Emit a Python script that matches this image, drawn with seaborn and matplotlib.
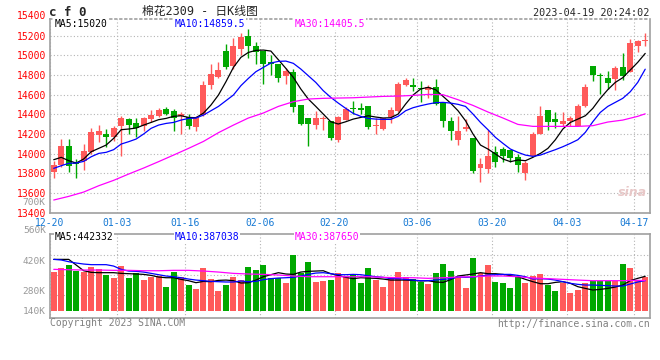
import matplotlib
matplotlib.use("Agg")
import matplotlib.pyplot as plt
import matplotlib.transforms as mtransforms
import seaborn as sns
import pandas as pd
import numpy as np

# daily candles, 80 trading days (12-20 .. 04-18)
opens = [13817, 13888, 14078, 13919, 13929, 14014, 14193, 14197, 14166, 14285,
         14352, 14312, 14285, 14352, 14386, 14454, 14434, 14386, 14369, 14275,
         14393, 14702, 14776, 15041, 14895, 15064, 15193, 15092, 15041, 14936,
         14912, 14793, 14834, 14495, 14363, 14295, 14352, 14329, 14142, 14346,
         14461, 14461, 14481, 14278, 14251, 14369, 14437, 14702, 14702, 14668,
         14651, 14675, 14522, 14329, 14142, 14251, 14159, 13858, 13844, 14014,
         14047, 14041, 13969, 13803, 13973, 14200, 14447, 14352, 14302, 14335,
         14278, 14481, 14888, 14790, 14766, 14759, 14878, 14834, 15098, 15149]
highs = [13929, 14149, 14149, 13946, 14095, 14261, 14291, 14251, 14278, 14386,
         14359, 14359, 14369, 14444, 14461, 14471, 14454, 14420, 14403, 14386,
         14742, 14912, 14929, 15115, 15176, 15224, 15268, 15132, 15041, 15003,
         14912, 14868, 14861, 14495, 14363, 14437, 14386, 14329, 14386, 14471,
         14532, 14512, 14481, 14366, 14363, 14471, 14732, 14766, 14766, 14742,
         14698, 14759, 14522, 14376, 14386, 14352, 14159, 13953, 14241, 14081,
         14071, 14041, 13997, 13929, 14217, 14481, 14447, 14420, 14420, 14386,
         14505, 14708, 14888, 14820, 14844, 14888, 15024, 15166, 15159, 15227]
lows = [13752, 13861, 13817, 13752, 13837, 13997, 14115, 14064, 14132, 13980,
        14200, 14166, 14234, 14318, 14369, 14393, 14234, 14200, 14251, 14234,
        14386, 14658, 14766, 14861, 14861, 15003, 14969, 14912, 14708, 14800,
        14725, 14708, 14420, 14291, 14081, 14251, 14244, 14142, 14122, 14346,
        14403, 14403, 14251, 14200, 14241, 14312, 14427, 14692, 14641, 14522,
        14566, 14495, 14268, 14142, 14091, 14234, 13803, 13708, 13803, 13861,
        13912, 13912, 13817, 13735, 13973, 14200, 14244, 14258, 14285, 14278,
        14278, 14471, 14742, 14607, 14658, 14651, 14752, 14827, 15037, 15092]
closes = [13885, 14078, 13878, 13898, 14024, 14217, 14227, 14173, 14261, 14363,
          14295, 14261, 14363, 14393, 14444, 14403, 14363, 14403, 14285, 14369,
          14698, 14810, 14851, 14878, 15092, 15183, 15098, 15030, 14912, 14912,
          14769, 14837, 14471, 14302, 14302, 14359, 14363, 14159, 14376, 14454,
          14454, 14447, 14268, 14291, 14363, 14447, 14708, 14749, 14681, 14658,
          14675, 14505, 14335, 14227, 14227, 14275, 13820, 13895, 13980, 13919,
          13980, 13959, 13888, 13905, 14200, 14386, 14318, 14318, 14335, 14363,
          14481, 14675, 14803, 14786, 14719, 14871, 14786, 15125, 15146, 15156]

ma5 = [13939, 13963, 13929, 13905, 13946, 14020, 14054, 14088, 14156, 14244,
       14251, 14261, 14291, 14318, 14346, 14359, 14380, 14386, 14369, 14366,
       14413, 14495, 14597, 14732, 14878, 14980, 15030, 15051, 15054, 15044,
       14956, 14868, 14776, 14658, 14556, 14481, 14403, 14325, 14302, 14325,
       14352, 14369, 14386, 14373, 14363, 14366, 14403, 14505, 14597, 14658,
       14675, 14651, 14583, 14515, 14437, 14335, 14200, 14088, 14047, 13997,
       13946, 13919, 13936, 13929, 13963, 14003, 14054, 14142, 14251, 14318,
       14352, 14386, 14461, 14563, 14651, 14725, 14773, 14851, 14929, 15020]
ma10 = [13851, 13878, 13902, 13905, 13922, 13969, 14003, 14014, 14041, 14098,
        14122, 14149, 14200, 14258, 14291, 14308, 14318, 14342, 14359, 14363,
        14393, 14437, 14481, 14539, 14597, 14692, 14766, 14834, 14878, 14922,
        14939, 14942, 14919, 14861, 14793, 14725, 14641, 14573, 14515, 14461,
        14410, 14380, 14359, 14352, 14349, 14349, 14380, 14437, 14468, 14488,
        14505, 14519, 14522, 14515, 14502, 14481, 14403, 14318, 14244, 14166,
        14105, 14047, 14014, 13986, 13973, 13986, 14014, 14041, 14071, 14105,
        14142, 14217, 14325, 14420, 14481, 14522, 14563, 14630, 14725, 14859.5]
ma30_idx = list(range(0, 80, 2)) + [79]
ma30 = [13529, 13566, 13610, 13674, 13729, 13793, 13854, 13919, 13986, 14054,
        14125, 14214, 14291, 14363, 14414, 14481, 14529, 14556, 14563, 14566,
        14569, 14576, 14583, 14586, 14593, 14603, 14600, 14549, 14491, 14424,
        14363, 14298, 14278, 14278, 14278, 14278, 14285, 14322, 14342, 14380,
        14405.5]

# volume in thousands of lots
volumes = [497, 544, 587, 510, 502, 557, 532, 459, 416, 574,
           416, 480, 394, 437, 446, 304, 493, 429, 330, 279,
           549, 403, 253, 330, 429, 394, 562, 523, 587, 424,
           424, 360, 716, 480, 626, 370, 385, 394, 480, 429,
           467, 360, 553, 394, 309, 424, 502, 429, 403, 373,
           347, 489, 604, 514, 437, 292, 682, 484, 592, 373,
           360, 296, 433, 360, 446, 476, 334, 253, 352, 232,
           266, 360, 386, 386, 386, 386, 604, 553, 382, 437]
vol_ma5 = [660, 660, 660, 587, 514, 493, 489, 489, 489, 480,
           476, 472, 467, 454, 433, 424, 424, 403, 386, 360,
           377, 373, 390, 394, 386, 356, 360, 394, 437, 463,
           489, 472, 467, 497, 506, 510, 514, 476, 454, 429,
           412, 424, 420, 416, 407, 394, 394, 394, 390, 382,
           386, 369, 364, 399, 446, 459, 472, 489, 476, 476,
           467, 450, 437, 403, 373, 347, 347, 364, 373, 352,
           309, 287, 266, 274, 287, 304, 330, 386, 416, 442.332]
vol_ma10 = [660, 652, 630, 613, 600, 592, 592, 592, 574, 532,
            510, 506, 497, 480, 463, 446, 437, 424, 407, 394,
            386, 377, 373, 369, 369, 382, 373, 377, 399, 412,
            420, 424, 429, 446, 467, 484, 489, 476, 463, 463,
            467, 463, 450, 437, 429, 412, 412, 403, 394, 386,
            386, 394, 403, 412, 433, 429, 433, 446, 459, 463,
            467, 467, 454, 437, 407, 412, 407, 394, 373, 352,
            339, 330, 330, 326, 322, 317, 317, 343, 369, 387.038]
vol_ma30 = [532, 527, 523, 523, 519, 519, 514, 514, 519, 519,
            510, 497, 480, 472, 467, 459, 446, 437, 437, 437,
            437, 437, 429, 424, 424, 416, 424, 433, 437, 446,
            446, 437, 420, 412, 403, 394, 386, 386, 386, 390,
            387.65]

tick_idx = [0, 9, 18, 28, 38, 49, 59, 69, 78]
tick_labels = ["12-20", "01-03", "01-16", "02-06", "02-20",
               "03-06", "03-20", "04-03", "04-17"]
price_ticks = [13400, 13600, 13800, 14000, 14200, 14400, 14600, 14800, 15000, 15200]
vol_grid = [196, 456, 716]
vol_labels = ["700K", "560K", "420K", "280K", "140K"]

RED = "#ff5a5a"
GREEN = "#00a800"
GRID = "#b4b4b4"
BORDER = "#a0a0a0"

df = pd.DataFrame({"idx": np.arange(len(opens)), "open": opens, "high": highs,
                   "low": lows, "close": closes, "volume": volumes})
df["dir"] = np.where(df["close"] >= df["open"], "up", "down")
colors = df["dir"].map({"up": RED, "down": GREEN}).tolist()

sns.set_style("white")
plt.rcParams["font.family"] = ["DejaVu Sans Mono", "Noto Sans CJK SC"]

W, H = 660, 360
fig = plt.figure(figsize=(6.6, 3.6), dpi=100, facecolor="white")
ax = fig.add_axes([50 / W, 1 - 212.7 / H, 600 / W, (212.7 - 19) / H])
axv = fig.add_axes([50 / W, 1 - 317.5 / H, 600 / W, (317.5 - 234.3) / H])

# candles
ax.vlines(df["idx"], df["low"], df["high"], colors=colors, lw=1, zorder=3)
body_low = np.minimum(df["open"], df["close"])
body_h = np.maximum((df["close"] - df["open"]).abs(), 10)
ax.bar(df["idx"], body_h, bottom=body_low, width=0.8, color=colors,
       linewidth=0, zorder=4)

sns.lineplot(x=df["idx"], y=ma5, ax=ax, color="black", lw=0.9, sort=False,
             estimator=None, zorder=5)
sns.lineplot(x=df["idx"], y=ma10, ax=ax, color="#0000ff", lw=0.9, sort=False,
             estimator=None, zorder=5)
sns.lineplot(x=ma30_idx, y=ma30, ax=ax, color="#ff00ff", lw=0.9, sort=False,
             estimator=None, zorder=5)

# volume
sns.barplot(data=df, x="idx", y="volume", hue="dir", palette={"up": RED, "down": GREEN},
            native_scale=True, dodge=False, width=0.8, errorbar=None, legend=False,
            saturation=1, linewidth=0, ax=axv, zorder=3)
sns.lineplot(x=df["idx"], y=vol_ma5, ax=axv, color="black", lw=0.9, sort=False,
             estimator=None, zorder=5)
sns.lineplot(x=df["idx"], y=vol_ma10, ax=axv, color="#0000ff", lw=0.9, sort=False,
             estimator=None, zorder=5)
sns.lineplot(x=ma30_idx, y=vol_ma30, ax=axv, color="#ff00ff", lw=0.9, sort=False,
             estimator=None, zorder=5)

xt = [t - 0.5 for t in tick_idx]
for a in (ax, axv):
    a.set_xlim(-0.36, 79.64)
    a.set_xticks(xt)
    a.set_xlabel("")
    a.set_ylabel("")
    a.grid(True, color=GRID, ls=(0, (1, 2)), lw=0.8, zorder=0)
    a.set_axisbelow(True)
    a.tick_params(length=0)
    for s in a.spines.values():
        s.set_color(BORDER)
        s.set_linewidth(1.2)

ax.set_ylim(13400, 15370)
ax.set_yticks(price_ticks)
ax.set_yticklabels([str(p) for p in price_ticks])
ax.tick_params(axis="y", labelcolor="red", labelsize=7, pad=3)
ax.set_xticklabels(tick_labels)
ax.tick_params(axis="x", labelcolor="#1478d4", labelsize=7, pad=3.5)
ax.spines["top"].set_linestyle((0, (1, 2)))
trans = mtransforms.blended_transform_factory(ax.transAxes, ax.transData)
ax.text(-0.007, 15400, "15400", transform=trans, ha="right", va="center",
        color="red", fontsize=7, clip_on=False)

axv.set_ylim(-87.4, 982.5)
axv.set_yticks(vol_grid)
axv.set_yticklabels([])
axv.set_xticklabels([])
for lab, fy in zip(vol_labels, [1.385, 1.04, 0.679, 0.3185, 0.078]):
    axv.text(-0.007, fy, lab, transform=axv.transAxes, ha="right", va="center",
             color="#999999", fontsize=6.8, clip_on=False)

box = dict(facecolor="white", edgecolor="none", pad=0.5)
for a, yf, texts in (
        (ax, 0.974, ["MA5:15020", "MA10:14859.5", "MA30:14405.5"]),
        (axv, 0.964, ["MA5:442332", "MA10:387038", "MA30:387650"])):
    for t, xpx, c in zip(texts, [55, 175, 295], ["black", "#0000ff", "#ff00ff"]):
        a.text((xpx - 50) / 600, yf, t, transform=a.transAxes, ha="left",
               va="center", color=c, fontsize=7, bbox=box, zorder=6)

fig.text(49 / W, 1 - 12 / H, "c f 0", fontsize=9, fontweight="bold",
         ha="left", va="center")
fig.text(200 / W, 1 - 11 / H, "棉花2309 - 日K线图", fontsize=8.5,
         ha="center", va="center")
fig.text(649 / W, 1 - 12.5 / H, "2023-04-19 20:24:02", fontsize=7.3,
         ha="right", va="center")
fig.text(50 / W, 1 - 323.5 / H, "Copyright 2023 SINA.COM", fontsize=7,
         color="#808080", ha="left", va="center")
fig.text(650 / W, 1 - 324 / H, "http://finance.sina.com.cn", fontsize=7,
         color="#808080", ha="right", va="center")
fig.text(632 / W, 1 - 192 / H, "sina", fontsize=9, style="italic",
         fontweight="bold", color="#e8c8c8", ha="center", va="center",
         family="DejaVu Sans")

fig.savefig("out.png", dpi=100, facecolor="white")
